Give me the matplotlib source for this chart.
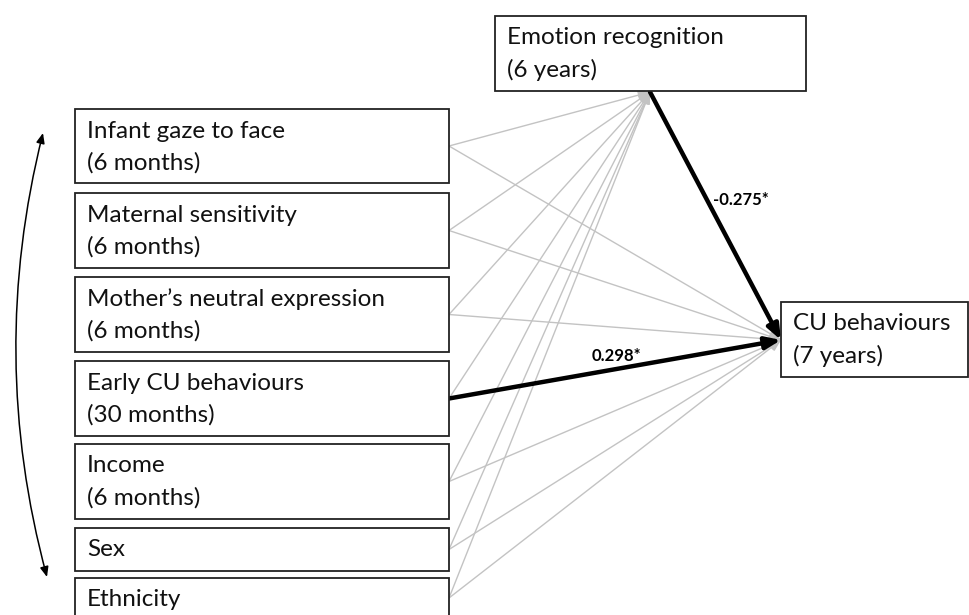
import matplotlib.pyplot as plt
from matplotlib.patches import Rectangle, FancyArrowPatch

# predictors (left column)
predictors = ["Infant gaze to face", "Maternal sensitivity", "Mother\u2019s neutral expression",
              "Early CU behaviours", "Income", "Sex", "Ethnicity"]
predictor_ages = ["(6 months)", "(6 months)", "(6 months)", "(30 months)", "(6 months)", "", ""]
mediator = ["Emotion recognition", "(6 years)"]
outcome = ["CU behaviours", "(7 years)"]

# significant paths
coef_mediator_outcome = "-0.275*"
coef_early_outcome = "0.298*"

# layout, in pixels (y downward)
box_x0, box_x1 = 75, 449
box_tops = [109, 193, 277, 361, 444, 528, 578]
box_bottoms = [183, 268, 352, 436, 519, 571, 618]
med_box = (495, 16, 806, 91)
out_box = (781, 302, 968, 377)
med_tip = (650, 92)
out_tip = (781, 340)

plt.rcParams['font.family'] = ['Lato', 'DejaVu Sans']
fig = plt.figure(figsize=(9.7, 6.15), dpi=100)
ax = fig.add_axes([0, 0, 1, 1])
ax.set_xlim(0, 970)
ax.set_ylim(615, 0)
ax.axis('off')

FS = 17.5
grey = '#c3c3c3'


def box(x0, y0, x1, y1, lines):
    ax.add_patch(Rectangle((x0, y0), x1 - x0, y1 - y0, fill=True, fc='white',
                           ec='#222222', lw=1.3, zorder=3))
    for i, t in enumerate(lines):
        ax.text(x0 + 12, y0 + 22 + i * 32, t, fontsize=FS, va='center', ha='left',
                color='#111111', zorder=4)


def arrow(p0, p1, color, lw, z=1, head=8):
    a = FancyArrowPatch(p0, p1, arrowstyle=f'-|>,head_length={head/10},head_width={head/25}',
                        color=color, lw=lw, shrinkA=0, shrinkB=0, zorder=z,
                        mutation_scale=10)
    ax.add_patch(a)


# grey paths from each predictor
for i, name in enumerate(predictors):
    mid = (box_tops[i] + box_bottoms[i]) / 2
    if name != "Early CU behaviours":
        arrow((box_x1, mid), out_tip, grey, 1.0, head=7)
    arrow((box_x1, mid), med_tip, grey, 1.0, head=7)

# significant paths
i_early = predictors.index("Early CU behaviours")
mid_early = (box_tops[i_early] + box_bottoms[i_early]) / 2
arrow((box_x1, mid_early), out_tip, 'black', 3.2, z=2, head=9)
arrow(med_tip, out_tip, 'black', 3.2, z=2, head=9)

ax.text(741, 200, coef_mediator_outcome, fontsize=12, fontweight='bold', ha='center', va='center')
ax.text(616, 356, coef_early_outcome, fontsize=12, fontweight='bold', ha='center', va='center')

# boxes
for i, name in enumerate(predictors):
    lines = [name] + ([predictor_ages[i]] if predictor_ages[i] else [])
    box(box_x0, box_tops[i], box_x1, box_bottoms[i], lines)
box(*med_box, mediator)
box(*out_box, outcome)

# covariance double arrow on the left
cov = FancyArrowPatch((43, 133), (47, 577), connectionstyle='arc3,rad=0.13',
                      arrowstyle='<|-|>,head_length=0.6,head_width=0.25',
                      color='black', lw=1.1, shrinkA=0, shrinkB=0, mutation_scale=10)
ax.add_patch(cov)

fig.savefig('out.png', dpi=100, facecolor='white')
